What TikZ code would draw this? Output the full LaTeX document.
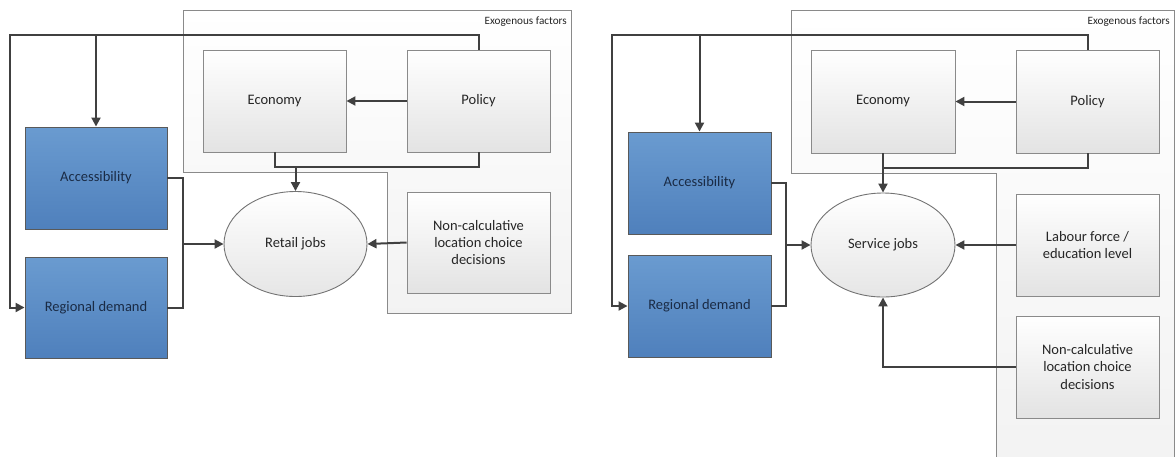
\documentclass[tikz,border=0pt]{standalone}
\usepackage{fontspec}
\setmainfont{Carlito}
\usetikzlibrary{arrows.meta,shapes.geometric}
\definecolor{conncol}{HTML}{404040}
\definecolor{boxline}{HTML}{8A8A8A}
\definecolor{bluetop}{HTML}{6A9BD0}
\definecolor{bluebot}{HTML}{4F80BC}
\definecolor{bluetext}{HTML}{1A2B45}
\definecolor{graytext}{HTML}{262626}
\tikzset{
  exo/.style={draw=boxline, line width=0.9pt, top color=white, bottom color=black!5},
  graybox/.style={draw=boxline, line width=0.9pt, top color=white, bottom color=black!11,
    minimum width=143pt, minimum height=102pt, align=center, text=graytext,
    font=\fontsize{14.5}{17.3}\selectfont},
  bluebox/.style={draw=black!65, line width=0.9pt, top color=bluetop, bottom color=bluebot,
    minimum width=142pt, minimum height=102pt, align=center, text=bluetext,
    font=\fontsize{14.5}{17.3}\selectfont},
  jobs/.style={ellipse, draw=black!55, line width=0.9pt, top color=white, bottom color=black!10,
    minimum width=143pt, minimum height=105pt, inner sep=0pt, text=graytext,
    font=\fontsize{14.5}{17.3}\selectfont},
  conn/.style={draw=conncol, line width=2pt},
  arr/.style={conn, -{Triangle[length=9pt,width=9pt]}},
  exolabel/.style={anchor=east, text=graytext, font=\fontsize{11.2}{13}\selectfont, inner sep=0pt},
}
\begin{document}
\begin{tikzpicture}[x=1pt,y=-1pt]
\useasboundingbox (0,0) rectangle (1175,456);
\clip (0,0) rectangle (1175,456);
% ---------- exogenous frames
\draw[exo] (183,10) -- (571,10) -- (571,313) -- (387,313) -- (387,172) -- (183,172) -- cycle;
\node[exolabel] (exoL) at (567,22) {Exogenous factors};
\draw[exo] (791,10) -- (1174,10) -- (1174,470) -- (996,470) -- (996,173) -- (791,173) -- cycle;
\node[exolabel] (exoR) at (1170,22) {Exogenous factors};

% ---------- left panel nodes
\node[graybox] (econL) at (274.5,101) {Economy};
\node[graybox] (polL) at (478.5,101) {Policy};
\node[graybox, minimum height=101pt] (ncL) at (478.5,242.5) {Non-calculative\\location choice\\decisions};
\node[jobs] (retail) at (295.5,244) {Retail jobs};
\node[bluebox] (accL) at (96,178) {Accessibility};
\node[bluebox, minimum height=101pt] (regL) at (96,307.5) {Regional demand};

% ---------- right panel nodes
\node[graybox, minimum width=144pt, minimum height=103pt] (econR) at (883,101.5) {Economy};
\node[graybox, minimum height=103pt] (polR) at (1087.5,101.5) {Policy};
\node[graybox] (labR) at (1087.5,245) {Labour force /\\education level};
\node[graybox] (ncR) at (1087.5,367) {Non-calculative\\location choice\\decisions};
\node[jobs, minimum width=144pt, minimum height=104pt] (service) at (883,245) {Service jobs};
\node[bluebox, minimum width=143pt] (accR) at (699.5,183) {Accessibility};
\node[bluebox, minimum width=143pt] (regR) at (699.5,306) {Regional demand};

% ---------- left panel connectors
\coordinate (fbL) at (10,35);
\draw[arr] (polL.north) |- (fbL) |- (regL.west);
\draw[arr] (accL.north |- fbL) -- (accL.north);
\draw[arr] (polL.west) -- (econL.east);
\coordinate (jL) at (0,167);
\draw[conn] (econL.south) |- (jL -| polL.south) -- (polL.south);
\draw[arr] (retail.north |- jL) -- (retail.north);
\coordinate (busL) at (183,0);
\draw[conn] (accL.east) -| (busL |- regL.east) -- (regL.east);
\draw[arr] (busL |- retail.west) -- (retail.west);
\draw[arr] (ncL.west) -- (retail.east);

% ---------- right panel connectors
\coordinate (fbR) at (612,35);
\draw[arr] (polR.north) |- (fbR) |- (regR.west);
\draw[arr] (accR.north |- fbR) -- (accR.north);
\draw[arr] (polR.west) -- (econR.east);
\coordinate (jR) at (0,168);
\draw[conn] (polR.south) |- (econR.south |- jR);
\draw[arr] (econR.south) -- (service.north);
\coordinate (busR) at (786,0);
\draw[conn] (accR.east) -| (busR |- regR.east) -- (regR.east);
\draw[arr] (busR |- service.west) -- (service.west);
\draw[arr] (labR.west) -- (service.east);
\draw[arr] (ncR.west) -| (service.south);
\end{tikzpicture}
\end{document}
